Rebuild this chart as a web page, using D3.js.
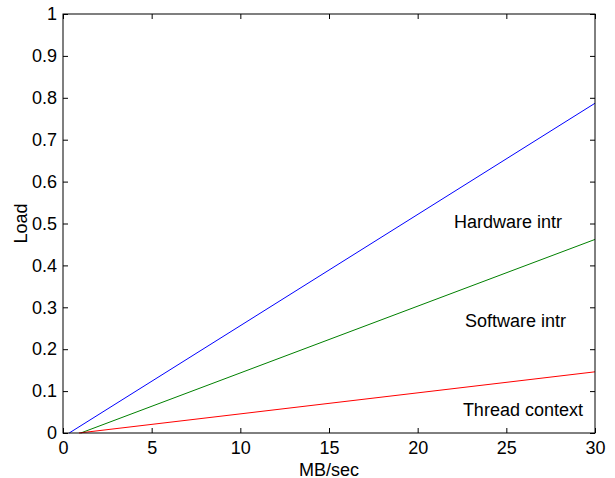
<!DOCTYPE html>
<html>
<head>
<meta charset="utf-8">
<script src="https://cdn.jsdelivr.net/npm/d3@7"></script>
<style>
  body { margin: 0; background: #fff; }
  text { font-family: "Liberation Sans", Arial, sans-serif; }
</style>
</head>
<body>
<div id="graph"></div>
<script>
// load vs throughput
var hardwareIntr = [[0.35, 0], [30, 0.787]];
var softwareIntr = [[1.0, 0], [30, 0.462]];
var threadContext = [[0.9, 0], [30, 0.146]];

var seriesNames = ["Hardware intr", "Software intr", "Thread context"];
var seriesColors = ["#0000ff", "#008000", "#ff0000"];
// label anchors (data units, left / baseline)
var labelX = [22.05, 22.67, 22.55];
var labelY = [0.489, 0.254, 0.04];

var xTicks = [0, 5, 10, 15, 20, 25, 30];
var yTicks = [0, 0.1, 0.2, 0.3, 0.4, 0.5, 0.6, 0.7, 0.8, 0.9, 1];

var margin = {top: 14, right: 20, bottom: 45, left: 63};
var W = 615, H = 478;
var width = W - margin.left - margin.right,
    height = H - margin.top - margin.bottom;

var svg = d3.select("#graph").append("svg")
    .attr("width", W).attr("height", H)
  .append("g")
    .attr("transform", "translate(" + margin.left + "," + margin.top + ")");

var x = d3.scaleLinear().domain([0, 30]).range([0, width]);
var y = d3.scaleLinear().domain([0, 1]).range([height, 0]);

var lines = [hardwareIntr, softwareIntr, threadContext];
var line = d3.line().x(function(d){ return x(d[0]); }).y(function(d){ return y(d[1]); });

svg.selectAll(".series").data(lines).enter().append("path")
    .attr("class", "series")
    .attr("d", line)
    .attr("fill", "none")
    .attr("stroke", function(d, i){ return seriesColors[i]; })
    .attr("stroke-width", 1);

// matlab-ish box with inward ticks on all sides
function styleAxis(g) {
  g.select(".domain").remove();
  g.selectAll(".tick line").attr("stroke", "#000");
  g.selectAll(".tick text").attr("font-size", "18px").attr("fill", "#000");
}

svg.append("g").attr("transform", "translate(0," + height + ")")
    .call(d3.axisBottom(x).tickValues(xTicks).tickSize(-5).tickPadding(8).tickFormat(d3.format("d")))
    .call(styleAxis);
svg.append("g")
    .call(d3.axisTop(x).tickValues(xTicks).tickSize(-5).tickFormat(""))
    .call(styleAxis);
svg.append("g")
    .call(d3.axisLeft(y).tickValues(yTicks).tickSize(-5).tickPadding(6).tickFormat(function(d){ return d3.format("")(+d.toFixed(1)); }))
    .call(styleAxis);
svg.append("g").attr("transform", "translate(" + width + ",0)")
    .call(d3.axisRight(y).tickValues(yTicks).tickSize(-5).tickFormat(""))
    .call(styleAxis);

svg.append("rect")
    .attr("x", 0).attr("y", 0).attr("width", width).attr("height", height)
    .attr("fill", "none").attr("stroke", "#000").attr("stroke-width", 1);

svg.selectAll(".lbl").data(seriesNames).enter().append("text")
    .attr("class", "lbl")
    .attr("x", function(d, i){ return x(labelX[i]); })
    .attr("y", function(d, i){ return y(labelY[i]); })
    .attr("font-size", "18px")
    .text(function(d){ return d; });

svg.append("text")
    .attr("x", width / 2).attr("y", height + 42.5)
    .attr("text-anchor", "middle").attr("font-size", "18px")
    .text("MB/sec");

svg.append("text")
    .attr("transform", "translate(" + (-36) + "," + (height / 2) + ") rotate(-90)")
    .attr("text-anchor", "middle").attr("font-size", "18px")
    .text("Load");
</script>
</body>
</html>
